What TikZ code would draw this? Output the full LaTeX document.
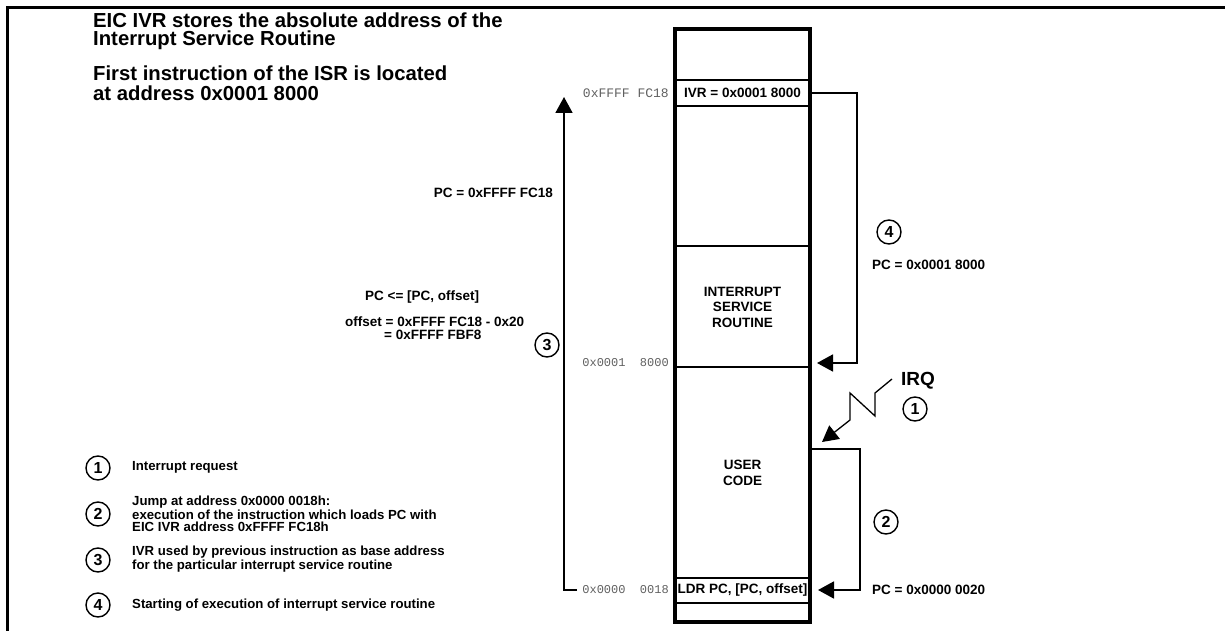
\documentclass[tikz,border=0pt]{standalone}
\usepackage{fontspec}
\setmainfont{Liberation Sans}
\setmonofont{Liberation Mono}
\usetikzlibrary{arrows.meta}
\definecolor{addrgray}{HTML}{606060}
\begin{document}
\begin{tikzpicture}[x=1pt,y=-1pt,
  lbl/.style={font=\fontsize{13.5}{15.5}\selectfont\bfseries, inner sep=0pt, align=center},
  leg/.style={font=\fontsize{13.2}{12.2}\selectfont\bfseries, inner sep=0pt, align=left, anchor=west},
  ttl/.style={font=\fontsize{20.3}{21}\selectfont\bfseries, inner sep=0pt, anchor=west},
  addr/.style={font=\fontsize{12}{14}\selectfont\ttfamily, text=addrgray, inner sep=0pt, anchor=east},
  num/.style={circle, draw, line width=1.4pt, minimum size=24pt, inner sep=0pt, font=\fontsize{16}{17}\selectfont\bfseries},
  conn/.style={line width=1.8pt},
  arr/.style={conn, -{Triangle[length=16pt,width=17pt]}},
  zig/.style={line width=1.3pt, -{Triangle[length=16pt,width=17pt]}},
  mem/.style={line width=3.8pt},
  sep/.style={line width=1.8pt},
  row/.style={lbl, minimum width=135pt}]

\useasboundingbox (0,0) rectangle (1225,631);

% frame
\draw[line width=3pt] (7,631) -- (7,8) -- (1225,8);

% title
\node[ttl] (t1) at (93,20) {EIC IVR stores the absolute address of the};
\node[ttl] (t2) at (93,40) {Interrupt Service Routine};
\node[ttl] (t3) at (93,73) {First instruction of the ISR is located};
\node[ttl] (t4) at (93,93) {at address 0x0001 8000};

% memory map
\draw[mem] (675,29) rectangle (810,622);
\draw[sep] (675,80) -- (810,80);
\draw[sep] (675,106) -- (810,106);
\draw[sep] (675,246) -- (810,246);
\draw[sep] (675,367) -- (810,367);
\draw[sep] (675,578) -- (810,578);
\draw[sep] (675,603) -- (810,603);

\node[row] (ivr) at (742.5,93) {IVR = 0x0001 8000};
\node[lbl] (isr) at (742.5,307) {INTERRUPT\\SERVICE\\ROUTINE};
\node[lbl] (user) at (742.5,473) {USER\\CODE};
\node[row] (ldr) at (742.5,590.5) {LDR PC, [PC, offset]};

% addresses
\node[addr,font=\fontsize{13}{14}\selectfont\ttfamily] (a1) at (669,93) {0xFFFF FC18};
\node[addr] (a2) at (669,363) {0x0001~~8000};
\node[addr] (a3) at (669,590) {0x0000~~0018};

% connector 4 : IVR -> ISR
\coordinate (c4) at (857,363);
\coordinate (isrin) at (817,363);
\draw[arr] (ivr.east) -| (c4) -- (isrin);
\node[num] (n4) at (889,232) {4};
\node[lbl, anchor=west] (pc4) at (872,265) {PC = 0x0001 8000};

% connector 2 : user code -> LDR
\coordinate (uout) at (812,449);
\coordinate (c2) at (860,590);
\coordinate (ldrin) at (818,590);
\draw[arr] (uout) -| (c2) -- (ldrin);
\node[num] (n2) at (886,522) {2};
\node[lbl, anchor=west] (pc2) at (872,590) {PC = 0x0000 0020};

% connector 3 : LDR -> IVR
\coordinate (tip3) at (564,97);
\draw[arr] ([xshift=-5pt]a3.west) -| (tip3);
\node[num] (n3) at (547,345) {3};
\node[lbl, anchor=east] (pc3) at (553,193) {PC = 0xFFFF FC18};
\node[lbl, anchor=west] (pc3b) at (365,297) {PC <= [PC, offset]};
\node[lbl, anchor=west] (off1) at (345,322) {offset = 0xFFFF FC18 - 0x20};
\node[lbl, anchor=west] (off2) at (384,335) {= 0xFFFF FBF8};

% IRQ
\coordinate (irqs) at (892,379);
\coordinate (irqin) at (822,442);
\draw[zig] (irqs) -- (875,393) -- (875,416) -- (850,393) -- (850,420) -- (irqin);
\node[font=\fontsize{19}{20}\selectfont\bfseries, inner sep=0pt] (irq) at (918,381) {IRQ};
\node[num] (n1) at (915,409) {1};

% legend
\node[num] (l1) at (98,468) {1};
\node[leg] (lt1) at (132,467) {Interrupt request};
\node[num] (l2) at (98,514) {2};
\node[leg] (lt2) at (132,514) {Jump at address 0x0000 0018h:\\execution of the instruction which loads PC with\\EIC IVR address 0xFFFF FC18h};
\node[num] (l3) at (98,560) {3};
\node[leg] (lt3) at (132,559) {IVR used by previous instruction as base address\\for the particular interrupt service routine};
\node[num] (l4) at (98,605) {4};
\node[leg] (lt4) at (132,605) {Starting of execution of interrupt service routine};
\end{tikzpicture}
\end{document}
